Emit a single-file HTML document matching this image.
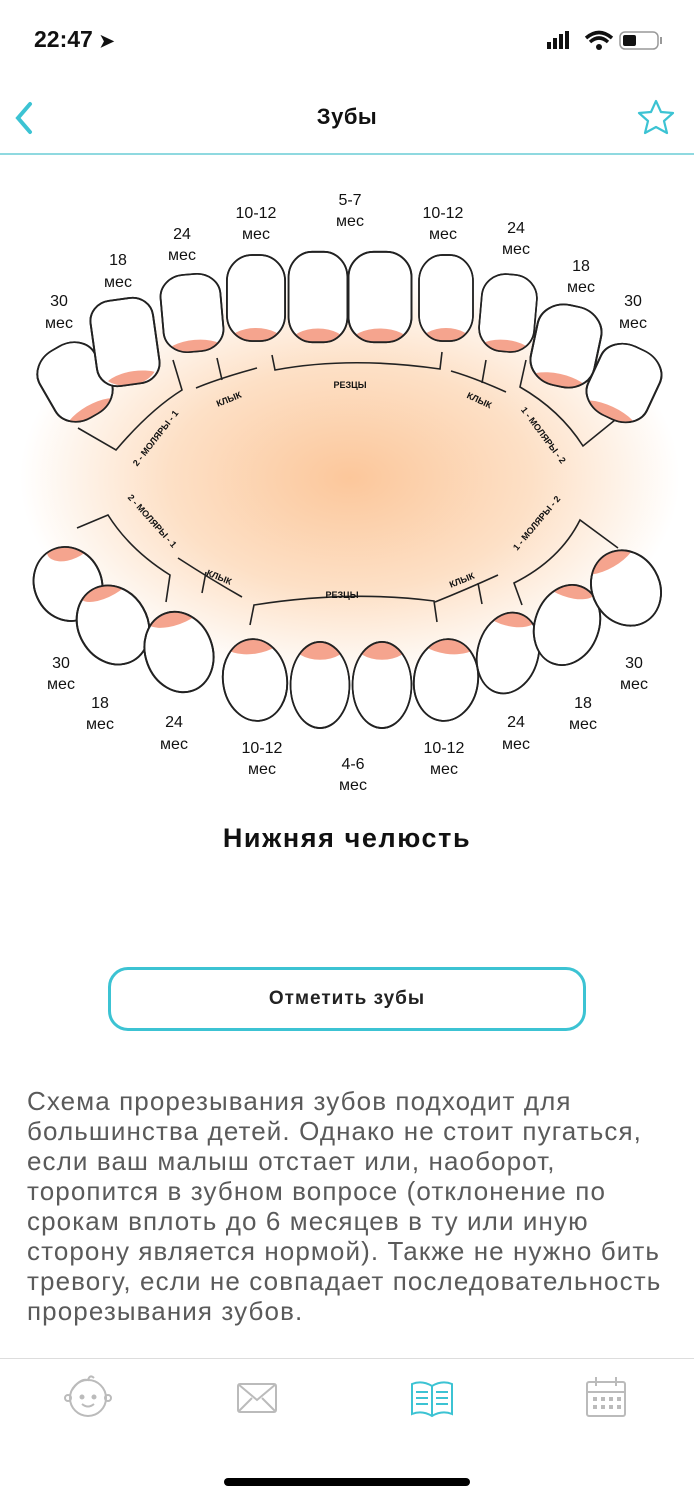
<!DOCTYPE html>
<html><head><meta charset="utf-8"><style>
body{margin:0;width:694px;height:1500px;background:#fff;position:relative;overflow:hidden;font-family:"Liberation Sans","Noto Sans CJK SC",sans-serif;color:#111}
.abs{position:absolute}
</style></head><body>
<div class="abs" style="left:34px;top:26px;font-size:23px;font-weight:bold">22:47 <span style="font-size:18px">➤</span></div>
<svg class="abs" style="left:540px;top:28px" width="130" height="28">
<rect x="7" y="14" width="4" height="7" fill="#111"/><rect x="13" y="10" width="4" height="11" fill="#111"/><rect x="19" y="6" width="4" height="15" fill="#111"/><rect x="25" y="3" width="4" height="18" fill="#111"/>
<path d="M46 10 Q59 -1 72 10" stroke="#111" stroke-width="3.5" fill="none"/><path d="M50 14 Q59 6 68 14" stroke="#111" stroke-width="3.5" fill="none"/><circle cx="59" cy="19" r="3" fill="#111"/>
<rect x="80" y="4" width="38" height="17" rx="5" fill="none" stroke="#999" stroke-width="1.5"/><rect x="83" y="7" width="13" height="11" rx="2" fill="#111"/><rect x="120" y="9" width="2" height="7" fill="#999"/>
</svg>
<svg class="abs" style="left:10px;top:100px" width="30" height="36"><path d="M20 4 L8 18 L20 32" stroke="#3cc3d3" stroke-width="4" fill="none" stroke-linecap="round"/></svg>
<div class="abs" style="left:0;width:694px;top:104px;text-align:center;font-size:22px;font-weight:bold;letter-spacing:0.5px">Зубы</div>
<svg class="abs" style="left:636px;top:98px" width="40" height="40"><path d="M20 3 L25 14 L37 15 L28 23 L31 35 L20 29 L9 35 L12 23 L3 15 L15 14 Z" fill="none" stroke="#3cc3d3" stroke-width="2.2" stroke-linejoin="round"/></svg>
<div class="abs" style="left:0;top:153px;width:694px;height:2px;background:#8fd9e0"></div>

<svg class="abs" style="left:0;top:160px" width="694" height="660" viewBox="0 160 694 660" font-family="Liberation Sans,sans-serif">
<defs>
<radialGradient id="g" cx="350" cy="478" r="330" gradientUnits="userSpaceOnUse" gradientTransform="translate(350 478) scale(1 0.62) translate(-350 -478)">
<stop offset="0" stop-color="#fcc79b"/><stop offset="0.55" stop-color="#fde0c6"/><stop offset="1" stop-color="#fff"/></radialGradient>
<clipPath id="ut"><rect x="-30" y="-43" width="60" height="86" rx="26"/></clipPath>
<clipPath id="lt"><ellipse cx="0" cy="0" rx="32" ry="41"/></clipPath>
</defs>
<rect x="0" y="160" width="694" height="660" fill="url(#g)"/>
<g stroke="#222" stroke-width="1.8">
<g transform="translate(75,382) rotate(-30) scale(1.05,0.9)"><rect x="-30" y="-43" width="60" height="86" rx="26" fill="#fff"/><ellipse cx="-2" cy="44" rx="30" ry="14" fill="#f5a48e" clip-path="url(#ut)" stroke="none"/><rect x="-30" y="-43" width="60" height="86" rx="26" fill="none"/></g>
<g transform="translate(125,342) rotate(-8) scale(1.05,1)"><rect x="-30" y="-43" width="60" height="86" rx="20" fill="#fff"/><ellipse cx="4" cy="44" rx="30" ry="14" fill="#f5a48e" clip-path="url(#ut)" stroke="none"/><rect x="-30" y="-43" width="60" height="86" rx="20" fill="none"/></g>
<g transform="translate(192,313) rotate(-5) scale(1,0.9)"><rect x="-30" y="-43" width="60" height="86" rx="24" fill="#fff"/><ellipse cx="0" cy="44" rx="30" ry="14" fill="#f5a48e" clip-path="url(#ut)" stroke="none"/><rect x="-30" y="-43" width="60" height="86" rx="24" fill="none"/></g>
<g transform="translate(256,298) scale(0.97,1)"><rect x="-30" y="-43" width="60" height="86" rx="26" fill="#fff"/><ellipse cx="0" cy="44" rx="28" ry="14" fill="#f5a48e" clip-path="url(#ut)" stroke="none"/><rect x="-30" y="-43" width="60" height="86" rx="26" fill="none"/></g>
<g transform="translate(318,297) scale(0.98,1.05)"><rect x="-30" y="-43" width="60" height="86" rx="24" fill="#fff"/><ellipse cx="0" cy="44" rx="28" ry="14" fill="#f5a48e" clip-path="url(#ut)" stroke="none"/><rect x="-30" y="-43" width="60" height="86" rx="24" fill="none"/></g>
<g transform="translate(380,297) scale(1.05,1.05)"><rect x="-30" y="-43" width="60" height="86" rx="24" fill="#fff"/><ellipse cx="0" cy="44" rx="28" ry="14" fill="#f5a48e" clip-path="url(#ut)" stroke="none"/><rect x="-30" y="-43" width="60" height="86" rx="24" fill="none"/></g>
<g transform="translate(446,298) scale(0.9,1)"><rect x="-30" y="-43" width="60" height="86" rx="26" fill="#fff"/><ellipse cx="0" cy="44" rx="28" ry="14" fill="#f5a48e" clip-path="url(#ut)" stroke="none"/><rect x="-30" y="-43" width="60" height="86" rx="26" fill="none"/></g>
<g transform="translate(508,313) rotate(5) scale(0.92,0.9)"><rect x="-30" y="-43" width="60" height="86" rx="26" fill="#fff"/><ellipse cx="0" cy="44" rx="30" ry="14" fill="#f5a48e" clip-path="url(#ut)" stroke="none"/><rect x="-30" y="-43" width="60" height="86" rx="26" fill="none"/></g>
<g transform="translate(566,346) rotate(12) scale(1.08,0.95)"><rect x="-30" y="-43" width="60" height="86" rx="26" fill="#fff"/><ellipse cx="0" cy="44" rx="30" ry="14" fill="#f5a48e" clip-path="url(#ut)" stroke="none"/><rect x="-30" y="-43" width="60" height="86" rx="26" fill="none"/></g>
<g transform="translate(624,383) rotate(25) scale(1.08,0.88)"><rect x="-30" y="-43" width="60" height="86" rx="26" fill="#fff"/><ellipse cx="0" cy="44" rx="30" ry="14" fill="#f5a48e" clip-path="url(#ut)" stroke="none"/><rect x="-30" y="-43" width="60" height="86" rx="26" fill="none"/></g>
<g transform="translate(68,584) rotate(-25) scale(1.05,0.92)"><ellipse rx="32" ry="41" fill="#fff"/><ellipse cx="18" cy="-38" rx="24" ry="16" fill="#f5a48e" clip-path="url(#lt)" stroke="none"/><ellipse rx="32" ry="41" fill="none"/></g>
<g transform="translate(113,625) rotate(-30) scale(1.08,1)"><ellipse rx="32" ry="41" fill="#fff"/><ellipse cx="16" cy="-40" rx="30" ry="14" fill="#f5a48e" clip-path="url(#lt)" stroke="none"/><ellipse rx="32" ry="41" fill="none"/></g>
<g transform="translate(179,652) rotate(-20) scale(1.05,1)"><ellipse rx="32" ry="41" fill="#fff"/><ellipse cx="10" cy="-40" rx="30" ry="14" fill="#f5a48e" clip-path="url(#lt)" stroke="none"/><ellipse rx="32" ry="41" fill="none"/></g>
<g transform="translate(255,680) rotate(-8) scale(1,1)"><ellipse rx="32" ry="41" fill="#fff"/><ellipse cx="4" cy="-40" rx="30" ry="14" fill="#f5a48e" clip-path="url(#lt)" stroke="none"/><ellipse rx="32" ry="41" fill="none"/></g>
<g transform="translate(320,685) scale(0.92,1.05)"><ellipse rx="32" ry="41" fill="#fff"/><ellipse cx="0" cy="-40" rx="30" ry="16" fill="#f5a48e" clip-path="url(#lt)" stroke="none"/><ellipse rx="32" ry="41" fill="none"/></g>
<g transform="translate(382,685) scale(0.92,1.05)"><ellipse rx="32" ry="41" fill="#fff"/><ellipse cx="0" cy="-40" rx="30" ry="16" fill="#f5a48e" clip-path="url(#lt)" stroke="none"/><ellipse rx="32" ry="41" fill="none"/></g>
<g transform="translate(446,680) rotate(8) scale(1,1)"><ellipse rx="32" ry="41" fill="#fff"/><ellipse cx="-4" cy="-40" rx="30" ry="14" fill="#f5a48e" clip-path="url(#lt)" stroke="none"/><ellipse rx="32" ry="41" fill="none"/></g>
<g transform="translate(508,653) rotate(15) scale(0.95,1)"><ellipse rx="32" ry="41" fill="#fff"/><ellipse cx="-10" cy="-40" rx="30" ry="14" fill="#f5a48e" clip-path="url(#lt)" stroke="none"/><ellipse rx="32" ry="41" fill="none"/></g>
<g transform="translate(567,625) rotate(20) scale(1,1)"><ellipse rx="32" ry="41" fill="#fff"/><ellipse cx="-14" cy="-40" rx="30" ry="14" fill="#f5a48e" clip-path="url(#lt)" stroke="none"/><ellipse rx="32" ry="41" fill="none"/></g>
<g transform="translate(626,588) rotate(-30) scale(1.05,0.95)"><ellipse rx="32" ry="41" fill="#fff"/><ellipse cx="0" cy="-40" rx="30" ry="14" fill="#f5a48e" clip-path="url(#lt)" stroke="none"/><ellipse rx="32" ry="41" fill="none"/></g>
</g>
<g stroke="#222" stroke-width="1.6" fill="none">
<path d="M272 355 L275 370 Q350 356 440 369 L442 352"/>
<path d="M196 388 Q220 378 257 368 M222 380 L217 358"/>
<path d="M451 371 Q475 378 506 392 M482 383 L486 360"/>
<path d="M78 428 L116 450 Q150 410 182 390 L173 360"/>
<path d="M615 420 L583 446 Q560 410 520 387 L526 360"/>
<path d="M250 625 L254 605 Q350 590 434 601 L437 622"/>
<path d="M178 558 Q212 580 242 597 M206 572 L202 593"/>
<path d="M435 602 Q465 590 498 575 M478 583 L482 604"/>
<path d="M77 528 L108 515 Q130 550 170 575 L166 602"/>
<path d="M618 548 L580 520 Q560 560 514 583 L522 605"/>
</g>
<g font-size="9" font-weight="bold" fill="#111">
<text x="350" y="388" text-anchor="middle">РЕЗЦЫ</text>
<text x="230" y="402" transform="rotate(-22 230 402)" text-anchor="middle">КЛЫК</text>
<text x="478" y="403" transform="rotate(25 478 403)" text-anchor="middle">КЛЫК</text>
<text x="158" y="440" transform="rotate(-52 158 440)" text-anchor="middle">2 - МОЛЯРЫ - 1</text>
<text x="541" y="437" transform="rotate(53 541 437)" text-anchor="middle">1 - МОЛЯРЫ - 2</text>
<text x="342" y="598" text-anchor="middle">РЕЗЦЫ</text>
<text x="218" y="580" transform="rotate(22 218 580)" text-anchor="middle">КЛЫК</text>
<text x="463" y="583" transform="rotate(-22 463 583)" text-anchor="middle">КЛЫК</text>
<text x="150" y="523" transform="rotate(48 150 523)" text-anchor="middle">2 - МОЛЯРЫ - 1</text>
<text x="539" y="525" transform="rotate(-50 539 525)" text-anchor="middle">1 - МОЛЯРЫ - 2</text>
</g>
<g font-size="16" fill="#111" text-anchor="middle">
<text x="59" y="306">30</text><text x="59" y="328">мес</text>
<text x="118" y="265">18</text><text x="118" y="287">мес</text>
<text x="182" y="239">24</text><text x="182" y="260">мес</text>
<text x="256" y="218">10-12</text><text x="256" y="239">мес</text>
<text x="350" y="205">5-7</text><text x="350" y="226">мес</text>
<text x="443" y="218">10-12</text><text x="443" y="239">мес</text>
<text x="516" y="233">24</text><text x="516" y="254">мес</text>
<text x="581" y="271">18</text><text x="581" y="292">мес</text>
<text x="633" y="306">30</text><text x="633" y="328">мес</text>
<text x="61" y="668">30</text><text x="61" y="689">мес</text>
<text x="100" y="708">18</text><text x="100" y="729">мес</text>
<text x="174" y="727">24</text><text x="174" y="749">мес</text>
<text x="262" y="753">10-12</text><text x="262" y="774">мес</text>
<text x="353" y="769">4-6</text><text x="353" y="790">мес</text>
<text x="444" y="753">10-12</text><text x="444" y="774">мес</text>
<text x="516" y="727">24</text><text x="516" y="749">мес</text>
<text x="583" y="708">18</text><text x="583" y="729">мес</text>
<text x="634" y="668">30</text><text x="634" y="689">мес</text>
</g>
</svg>

<div class="abs" style="left:0;width:694px;top:823px;text-align:center;font-size:27px;font-weight:bold;letter-spacing:1.6px">Нижняя челюсть</div>
<div class="abs" style="left:108px;top:967px;width:472px;height:58px;border:3px solid #3cc3d3;border-radius:20px;text-align:center;line-height:58px;font-size:19px;font-weight:bold;color:#222;letter-spacing:1px">Отметить зубы</div>
<div class="abs" style="left:27px;top:1086px;width:670px;font-size:26px;line-height:30px;letter-spacing:1.1px;color:#5a5a5a;white-space:nowrap">Схема прорезывания зубов подходит для<br>большинства детей. Однако не стоит пугаться,<br>если ваш малыш отстает или, наоборот,<br>торопится в зубном вопросе (отклонение по<br>срокам вплоть до 6 месяцев в ту или иную<br>сторону является нормой). Также не нужно бить<br>тревогу, если не совпадает последовательность<br>прорезывания зубов.</div>
<div class="abs" style="left:0;top:1358px;width:694px;height:1px;background:#ddd"></div>
<svg class="abs" style="left:0;top:1370px" width="694" height="60" fill="none" stroke-width="2">
<g stroke="#bbb"><circle cx="88" cy="28" r="18"/><path d="M72 20 Q80 8 88 10 Q90 4 94 8"/><circle cx="82" cy="27" r="1.5" fill="#bbb"/><circle cx="94" cy="27" r="1.5" fill="#bbb"/><path d="M82 34 Q88 39 94 34"/><circle cx="68" cy="28" r="3"/><circle cx="108" cy="28" r="3"/></g>
<g stroke="#bbb"><rect x="238" y="14" width="38" height="28" rx="2"/><path d="M238 14 L257 30 L276 14 M238 42 L252 28 M276 42 L262 28"/></g>
<g stroke="#3cc3d3"><path d="M412 14 Q422 10 432 16 Q442 10 452 14 L452 44 Q442 40 432 46 Q422 40 412 44 Z M432 16 L432 46 M416 22 L428 22 M416 28 L428 28 M416 34 L428 34 M436 22 L448 22 M436 28 L448 28 M436 34 L448 34"/></g>
<g stroke="#bbb"><rect x="587" y="12" width="38" height="34" rx="2"/><path d="M587 22 L625 22 M596 7 L596 16 M616 7 L616 16"/><g fill="#bbb" stroke="none"><rect x="593" y="27" width="4" height="4"/><rect x="601" y="27" width="4" height="4"/><rect x="609" y="27" width="4" height="4"/><rect x="617" y="27" width="4" height="4"/><rect x="593" y="35" width="4" height="4"/><rect x="601" y="35" width="4" height="4"/><rect x="609" y="35" width="4" height="4"/><rect x="617" y="35" width="4" height="4"/></g></g>
</svg>
<div class="abs" style="left:224px;top:1478px;width:246px;height:8px;border-radius:4px;background:#000"></div>
</body></html>
